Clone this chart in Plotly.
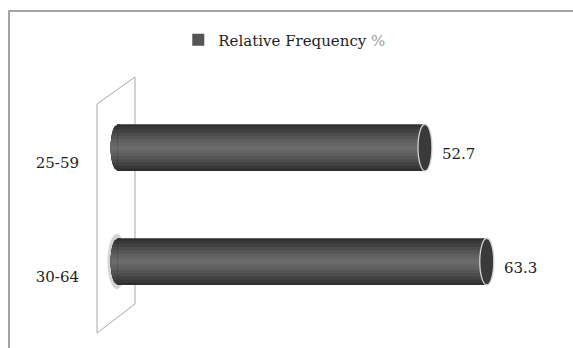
import numpy as np
import plotly.graph_objects as go

# ---- data -------------------------------------------------------------
categories = ["25-59", "30-64"]
rel_freq = [52.7, 63.3]
series_name = "Relative Frequency"

# ---- cylinder styling -------------------------------------------------
# (relative thickness, colour) from the rim of the cylinder to its core
shade_steps = [
    (1.00, "#2e2e2e"),
    (0.90, "#383838"),
    (0.78, "#424242"),
    (0.64, "#4c4c4c"),
    (0.50, "#555555"),
    (0.36, "#5e5e5e"),
    (0.22, "#656565"),
    (0.10, "#6a6a6a"),
]
BAR_W = 0.41     # cylinder thickness in category units
LIFT = 0.135     # cylinders sit a little above their labels (3-D depth)
CAP = 1.2        # half-width of the end ellipses, in value units
X_RANGE = [-2, 75]

SERIF = "DejaVu Serif"
TEXT = "#1e1e1e"

pos = list(range(len(categories)))

fig = go.Figure()

# stacked bars of decreasing thickness give the rounded shading
for frac, col in shade_steps:
    w = BAR_W * frac
    fig.add_trace(go.Bar(
        x=rel_freq, y=pos, orientation="h",
        width=w, offset=-LIFT - w / 2,
        marker=dict(color=col, line=dict(width=0)),
        name=series_name + ' <span style="color:#9a9a9a">%</span>',
        showlegend=(frac == 0.50),
        hoverinfo="skip",
    ))

shapes = []

# ---- side wall (parallelogram) in paper coordinates --------------------
L_PX, PLOT_W = 106, 449
T_PX, PLOT_H = 106, 228


def px(xp):
    return (xp - L_PX) / PLOT_W


def py(yp):
    return (T_PX + PLOT_H - yp) / PLOT_H


wall = [(97, 104), (135, 77), (135, 304), (97, 333)]
wall_path = "M " + " L ".join(f"{px(a):.4f},{py(b):.4f}" for a, b in wall) + " Z"
shapes.append(dict(type="path", path=wall_path, xref="paper", yref="paper",
                   line=dict(color="#a8a8a8", width=1), layer="below"))

# ---- outer chart frame --------------------------------------------------
frame_path = f"M {px(9):.4f},{py(352):.4f} L {px(9):.4f},{py(11):.4f} L {px(576):.4f},{py(11):.4f}"
shapes.append(dict(type="path", path=frame_path, xref="paper", yref="paper",
                   line=dict(color="#a4a4a4", width=2)))

half = BAR_W / 2
for p, v in zip(pos, rel_freq):
    yc = p - LIFT
    if p == 1:
        # soft glow behind the base of the lower cylinder
        shapes.append(dict(type="circle", xref="x", yref="y",
                           x0=-CAP * 1.45, x1=CAP * 1.2,
                           y0=yc - half * 1.18, y1=yc + half * 1.18,
                           fillcolor="rgba(160,160,160,0.45)",
                           line=dict(width=0), layer="below"))
    # rounded base: shaded bands clipped to the left half of an ellipse
    for frac, col in shade_steps:
        a = half * frac
        ys = np.linspace(-a, a, 25)
        xs = -CAP * np.sqrt(np.clip(1 - (ys / half) ** 2, 0, 1))
        pts = [(0.4, yc - a)] + [(x, yc + y) for x, y in zip(xs, ys)] + [(0.4, yc + a)]
        path = "M " + " L ".join(f"{x:.4f},{y:.4f}" for x, y in pts) + " Z"
        shapes.append(dict(type="path", path=path, xref="x", yref="y",
                           fillcolor=col, line=dict(width=0), layer="below"))
    # end face of the cylinder
    shapes.append(dict(type="circle", xref="x", yref="y",
                       x0=v - CAP, x1=v + CAP, y0=yc - half, y1=yc + half,
                       fillcolor="#3a3a3a",
                       line=dict(color="#d2d2d2", width=1.3)))

annotations = []
for p, v in zip(pos, rel_freq):
    annotations.append(dict(
        x=v, y=p, xref="x", yref="y", text=f"{v}",
        showarrow=False, xanchor="left", yanchor="middle",
        xshift=15, yshift=9,
        font=dict(family=SERIF, size=15, color=TEXT),
    ))

fig.update_layout(
    width=573, height=348,
    margin=dict(l=L_PX, r=573 - L_PX - PLOT_W, t=T_PX, b=348 - T_PX - PLOT_H, pad=0),
    paper_bgcolor="white", plot_bgcolor="white",
    barmode="overlay",
    shapes=shapes,
    annotations=annotations,
    showlegend=True,
    legend=dict(
        orientation="h",
        xref="container", yref="container",
        x=0.497, xanchor="center",
        y=0.885, yanchor="middle",
        font=dict(family=SERIF, size=15, color=TEXT),
        bgcolor="rgba(0,0,0,0)",
    ),
    xaxis=dict(range=X_RANGE, visible=False, fixedrange=True),
    yaxis=dict(
        range=[len(categories) - 0.5, -0.5],
        tickvals=pos, ticktext=categories,
        showgrid=False, zeroline=False, showline=False,
        ticks="", ticklabelstandoff=26,
        tickfont=dict(family=SERIF, size=15, color=TEXT),
        fixedrange=True,
    ),
)

fig.write_html("out.html")
